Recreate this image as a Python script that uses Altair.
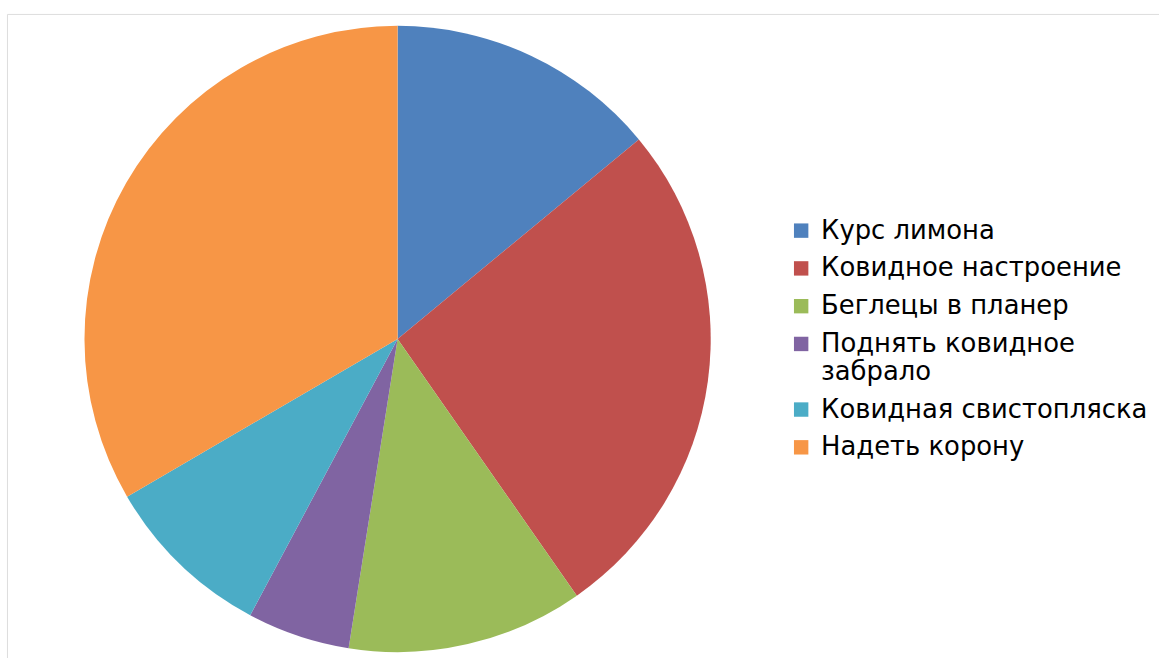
import altair as alt
import pandas as pd

categories = ["Курс лимона", "Ковидное настроение", "Беглецы в планер",
              "Поднять ковидное забрало", "Ковидная свистопляска", "Надеть корону"]
values = [14.0, 26.3, 12.2, 5.3, 8.8, 33.4]
colors = ["#4F81BD", "#C0504D", "#9BBB59", "#8064A2", "#4BACC6", "#F79646"]

df = pd.DataFrame({"cat": categories, "val": values, "order": list(range(len(values)))})

label_expr = ("datum.label == 'Поднять ковидное забрало' ? "
              "['Поднять ковидное', 'забрало'] : datum.label")

chart = alt.Chart(df).mark_arc(radius=315, stroke=None).encode(
    theta=alt.Theta("val:Q", stack=True),
    order=alt.Order("order:Q"),
    x=alt.value(393),
    y=alt.value(327),
    color=alt.Color(
        "cat:N",
        sort=categories,
        scale=alt.Scale(domain=categories, range=colors),
        legend=alt.Legend(
            title=None,
            orient="none",
            legendX=786,
            legendY=205,
            symbolType="square",
            symbolSize=210,
            symbolStrokeWidth=0,
            labelFontSize=26,
            labelFont="DejaVu Sans",
            labelColor="#000000",
            labelOffset=7,
            labelLimit=400,
            rowPadding=12,
            padding=0,
            labelExpr=label_expr,
        ),
    ),
).properties(
    width=1159,
    height=658,
    autosize=alt.AutoSizeParams(type="none"),
    padding={"left": 7, "top": 12, "right": 0, "bottom": 0},
).configure_view(
    stroke="#d9d9d9",
    strokeWidth=2,
).configure(background="white")

chart.save("out.html", embed_options={"renderer": "svg", "actions": False})
